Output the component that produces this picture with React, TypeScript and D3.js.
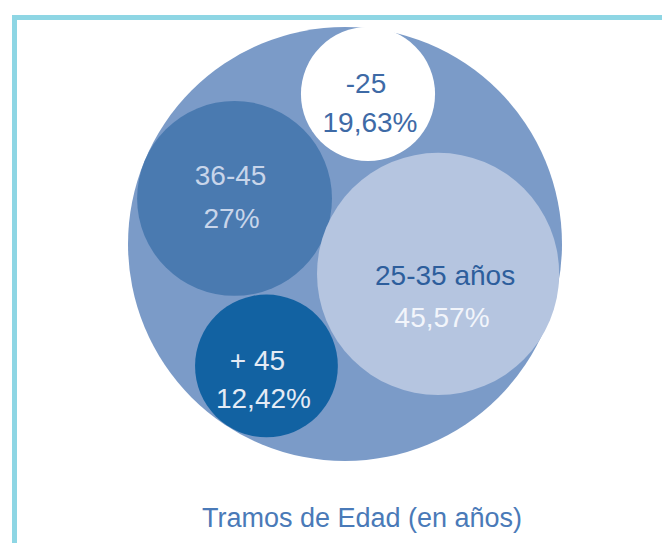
import React from "react";
import * as d3 from "d3";

// ---- data ----
const categories = ["-25", "36-45", "25-35 años", "+ 45"];
const shares = [19.63, 27, 45.57, 12.42];
const title = "Tramos de Edad (en años)";

// ---- layout (unit = radius of the enclosing circle) ----
const layoutX = [0.106, -0.509, 0.429, -0.362];
const layoutY = [-0.691, -0.21, 0.138, 0.562];
const layoutR = [0.309, 0.449, 0.558, 0.329];
const labelDx = [[-2, 2], [-4, -3], [7, 4], [-9, -3]];
const labelDy = [[-1, 38], [-13.5, 29.5], [11, 53], [4, 42]];

// ---- styles ----
const fills = ["#ffffff", "#4a7ab0", "#b5c5e0", "#1262a2"];
const textColors = [
  ["#3e6aa6", "#3e6aa6"],
  ["#c8d5ea", "#c8d5ea"],
  ["#2d5e9c", "#f2f5fb"],
  ["#e4ebf5", "#e4ebf5"],
];
const outerFill = "#7b9bc8";
const borderColor = "#8ed6e4";

const W = 662;
const H = 543;
const CX = 345;
const CY = 244;
const R = 217;

const fmt = (v: number) => d3.format("~r")(v).replace(".", ",") + "%";

export default function App() {
  const x = d3.scaleLinear().domain([-1, 1]).range([CX - R, CX + R]);
  const y = d3.scaleLinear().domain([-1, 1]).range([CY - R, CY + R]);
  const r = d3.scaleLinear().domain([0, 1]).range([0, R]);

  const nodes = categories.map((c, i) => ({
    name: c,
    value: shares[i],
    cx: x(layoutX[i]),
    cy: y(layoutY[i]),
    r: r(layoutR[i]),
    i,
  }));

  const font = "'Liberation Sans', Arial, Helvetica, sans-serif";

  return (
    <svg
      width={W}
      height={H}
      style={{ position: "absolute", left: 0, top: 0, background: "#ffffff" }}
      fontFamily={font}
    >
      <line x1={12} y1={17.5} x2={W} y2={17.5} stroke={borderColor} strokeWidth={5} />
      <line x1={14.5} y1={15} x2={14.5} y2={H} stroke={borderColor} strokeWidth={5} />
      <circle cx={CX} cy={CY} r={R} fill={outerFill} />
      {nodes.map((n) => (
        <g key={n.name}>
          <circle cx={n.cx} cy={n.cy} r={n.r} fill={fills[n.i]} />
          <text
            x={n.cx + labelDx[n.i][0]}
            y={n.cy + labelDy[n.i][0]}
            textAnchor="middle"
            fontSize={28}
            fill={textColors[n.i][0]}
          >
            {n.name}
          </text>
          <text
            x={n.cx + labelDx[n.i][1]}
            y={n.cy + labelDy[n.i][1]}
            textAnchor="middle"
            fontSize={28}
            fill={textColors[n.i][1]}
          >
            {fmt(n.value)}
          </text>
        </g>
      ))}
      <text x={362} y={527} textAnchor="middle" fontSize={27} fill="#4a7ab8">
        {title}
      </text>
    </svg>
  );
}
